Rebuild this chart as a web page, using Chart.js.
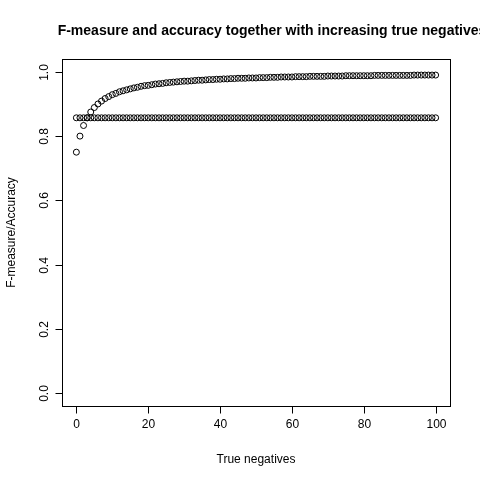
<!DOCTYPE html>
<html>
<head>
<meta charset="utf-8">
<script src="https://cdn.jsdelivr.net/npm/chart.js@4"></script>
<style>
html,body{margin:0;padding:0;background:#fff;}
#wrap{width:480px;height:480px;}
</style>
</head>
<body>
<div id="wrap"><canvas id="c" width="480" height="480"></canvas></div>
<script>
const trueNegatives = [];
for (let i = 0; i <= 100; i++) trueNegatives.push(i);

const accuracy = [
  0.750,0.800,0.833,0.857,0.875,0.889,0.900,0.909,0.917,0.923,
  0.929,0.933,0.938,0.941,0.944,0.947,0.950,0.952,0.955,0.957,
  0.958,0.960,0.962,0.963,0.964,0.966,0.967,0.968,0.969,0.970,
  0.971,0.971,0.972,0.973,0.974,0.974,0.975,0.976,0.976,0.977,
  0.977,0.978,0.978,0.979,0.979,0.980,0.980,0.980,0.981,0.981,
  0.981,0.982,0.982,0.982,0.983,0.983,0.983,0.984,0.984,0.984,
  0.984,0.985,0.985,0.985,0.985,0.986,0.986,0.986,0.986,0.986,
  0.987,0.987,0.987,0.987,0.987,0.988,0.988,0.988,0.988,0.988,
  0.988,0.988,0.988,0.989,0.989,0.989,0.989,0.989,0.989,0.989,
  0.989,0.989,0.989,0.989,0.990,0.990,0.990,0.990,0.990,0.990,
  0.990
];
const fMeasure = trueNegatives.map(() => 0.857);

const xTicks = [0, 20, 40, 60, 80, 100];
const yTicks = [0.0, 0.2, 0.4, 0.6, 0.8, 1.0];
const yTickLabels = ["0.0", "0.2", "0.4", "0.6", "0.8", "1.0"];

const titleText = "F-measure and accuracy together with increasing true negatives";
const xLabel = "True negatives";
const yLabel = "F-measure/Accuracy";

const rAxes = {
  id: 'rAxes',
  afterDraw(chart) {
    const { ctx, chartArea: a, scales: { x, y } } = chart;
    ctx.save();
    ctx.strokeStyle = '#000';
    ctx.lineWidth = 1;
    ctx.strokeRect(a.left + 0.5, a.top + 0.5, a.right - a.left, a.bottom - a.top);
    ctx.fillStyle = '#000';
    ctx.font = '12px "Liberation Sans", Arial, sans-serif';
    // x axis
    ctx.beginPath();
    const xb = a.bottom + 0.5;
    ctx.moveTo(x.getPixelForValue(xTicks[0]), xb);
    ctx.lineTo(x.getPixelForValue(xTicks[xTicks.length - 1]), xb);
    ctx.textAlign = 'center'; ctx.textBaseline = 'top';
    xTicks.forEach(v => {
      const px = Math.round(x.getPixelForValue(v)) + 0.5;
      ctx.moveTo(px, xb); ctx.lineTo(px, xb + 7);
      ctx.fillText(String(v), px, xb + 12);
    });
    ctx.stroke();
    // y axis
    ctx.beginPath();
    const yl = a.left + 0.5;
    ctx.moveTo(yl, y.getPixelForValue(yTicks[0]));
    ctx.lineTo(yl, y.getPixelForValue(yTicks[yTicks.length - 1]));
    ctx.stroke();
    yTicks.forEach((v, i) => {
      const py = Math.round(y.getPixelForValue(v)) + 0.5;
      ctx.beginPath(); ctx.moveTo(yl, py); ctx.lineTo(yl - 7, py); ctx.stroke();
      ctx.save();
      ctx.translate(yl - 12, py); ctx.rotate(-Math.PI / 2);
      ctx.textAlign = 'center'; ctx.textBaseline = 'bottom';
      ctx.fillText(yTickLabels[i], 0, 0);
      ctx.restore();
    });
    // axis titles
    ctx.textAlign = 'center'; ctx.textBaseline = 'middle';
    ctx.fillText(xLabel, (a.left + a.right) / 2, 460);
    ctx.save();
    ctx.translate(12, (a.top + a.bottom) / 2); ctx.rotate(-Math.PI / 2);
    ctx.fillText(yLabel, 0, 0);
    ctx.restore();
    ctx.font = 'bold 14px "Liberation Sans", Arial, sans-serif';
    ctx.fillText(titleText, 272, 31);
    ctx.restore();
  }
};

const pointStyle = {
  showLine: false, pointStyle: 'circle', pointRadius: 3,
  pointBorderColor: '#000', pointBackgroundColor: 'rgba(0,0,0,0)', pointBorderWidth: 1
};

new Chart(document.getElementById('c'), {
  type: 'scatter',
  data: {
    datasets: [
      Object.assign({ label: 'Accuracy', data: trueNegatives.map((t, i) => ({ x: t, y: accuracy[i] })) }, pointStyle),
      Object.assign({ label: 'F-measure', data: trueNegatives.map((t, i) => ({ x: t, y: fMeasure[i] })) }, pointStyle)
    ]
  },
  options: {
    responsive: false, animation: false,
    layout: { padding: { left: 62, right: 30, top: 59, bottom: 74 } },
    plugins: { legend: { display: false }, title: { display: false }, tooltip: { enabled: false } },
    scales: {
      x: { type: 'linear', min: -4, max: 104, display: false },
      y: { type: 'linear', min: -0.04, max: 1.04, display: false }
    }
  },
  plugins: [rAxes]
});
</script>
</body>
</html>
